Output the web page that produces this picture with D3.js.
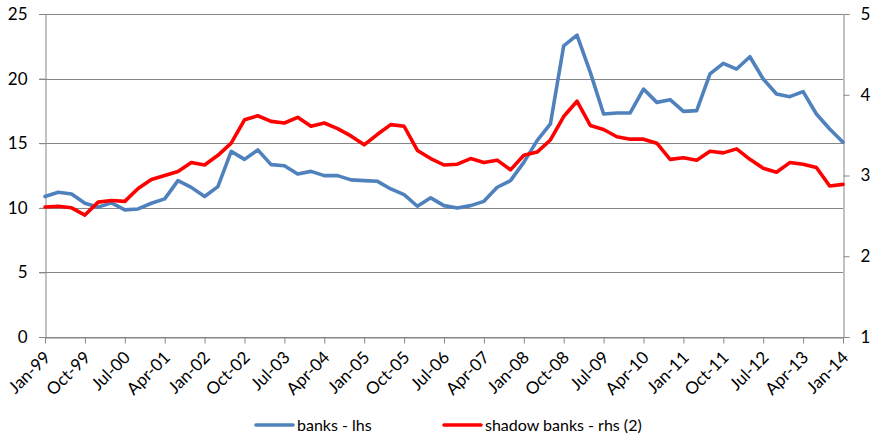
<!DOCTYPE html>
<html>
<head>
<meta charset="utf-8">
<script src="https://cdn.jsdelivr.net/npm/d3@7"></script>
<style>
  html, body { margin: 0; padding: 0; background: #fff; }
  svg { display: block; font-family: Lato, "Open Sans", sans-serif; }
</style>
</head>
<body>
<svg id="chart" width="874" height="436"></svg>
<script>
// Quarterly observations, Jan-99 .. Jan-14
const quarters = d3.range(61).map(i => {
  const m = ["Jan", "Apr", "Jul", "Oct"][i % 4];
  const y = (99 + Math.floor(i / 4)) % 100;
  return m + "-" + String(y).padStart(2, "0");
});

// Banks (left axis)
const banks = [
  10.87, 11.20, 11.07, 10.35, 10.05, 10.38, 9.84, 9.91, 10.35, 10.69,
  12.10, 11.58, 10.87, 11.64, 14.37, 13.75, 14.48, 13.34, 13.26, 12.62,
  12.82, 12.49, 12.49, 12.16, 12.10, 12.05, 11.46, 11.02, 10.12, 10.77,
  10.17, 9.99, 10.17, 10.50, 11.59, 12.10, 13.52, 15.20, 16.49, 22.54,
  23.37, 20.48, 17.26, 17.34, 17.34, 19.19, 18.16, 18.37, 17.46, 17.52,
  20.36, 21.18, 20.74, 21.69, 19.97, 18.81, 18.60, 18.99, 17.26, 16.10,
  15.07
];

// Shadow banks (right axis)
const shadowBanks = [
  2.61, 2.62, 2.60, 2.51, 2.67, 2.69, 2.68, 2.84, 2.95, 3.00,
  3.05, 3.16, 3.13, 3.25, 3.40, 3.69, 3.74, 3.67, 3.65, 3.72,
  3.61, 3.65, 3.58, 3.49, 3.38, 3.51, 3.63, 3.61, 3.31, 3.21,
  3.13, 3.14, 3.21, 3.16, 3.19, 3.07, 3.25, 3.29, 3.44, 3.73,
  3.92, 3.62, 3.57, 3.48, 3.45, 3.45, 3.40, 3.20, 3.22, 3.19,
  3.30, 3.28, 3.33, 3.20, 3.09, 3.04, 3.16, 3.14, 3.10, 2.87,
  2.89
];

const leftTicks = [0, 5, 10, 15, 20, 25];
const rightTicks = [1, 2, 3, 4, 5];
const seriesNames = ["banks - lhs", "shadow banks - rhs (2)"];
const seriesColors = ["#4F81BD", "#FF0000"];

const svg = d3.select("#chart");
const plot = { left: 45, right: 843, top: 14, bottom: 337 };

const x = d3.scalePoint().domain(quarters).range([plot.left, plot.right]);
const yL = d3.scaleLinear().domain([0, 25]).range([plot.bottom, plot.top]);
const yR = d3.scaleLinear().domain([1, 5]).range([plot.bottom, plot.top]);

const gridColor = "#868686";
const intFmt = d3.format("d");

// horizontal gridlines
svg.append("g")
  .selectAll("line")
  .data(leftTicks)
  .join("line")
  .attr("x1", plot.left - 6).attr("x2", plot.right)
  .attr("y1", d => Math.round(yL(d)) + 0.5).attr("y2", d => Math.round(yL(d)) + 0.5)
  .attr("stroke", gridColor).attr("stroke-width", 1);

// left axis
const axL = svg.append("g").attr("transform", `translate(${plot.left + 0.5},0)`)
  .call(d3.axisLeft(yL).tickValues(leftTicks).tickFormat(intFmt).tickSize(6).tickPadding(12));
axL.select(".domain").attr("stroke", gridColor);
axL.selectAll(".tick line").attr("stroke", gridColor);
axL.selectAll("text").attr("font-size", 17).attr("fill", "#000").style("font-family", "Lato, sans-serif");

// right axis
const axR = svg.append("g").attr("transform", `translate(${plot.right + 0.5},0)`)
  .call(d3.axisRight(yR).tickValues(rightTicks).tickFormat(intFmt).tickSize(6).tickPadding(11));
axR.select(".domain").attr("stroke", gridColor);
axR.selectAll(".tick line").attr("stroke", gridColor);
axR.selectAll("text").attr("font-size", 17).attr("fill", "#000").style("font-family", "Lato, sans-serif");

// bottom axis, labelled every third quarter
const shown = quarters.filter((q, i) => i % 3 === 0);
const axB = svg.append("g").attr("transform", `translate(0,${plot.bottom + 0.5})`)
  .call(d3.axisBottom(x).tickValues(shown).tickSize(6).tickSizeOuter(0));
axB.select(".domain").attr("stroke", gridColor);
axB.selectAll(".tick line").attr("stroke", gridColor);
axB.selectAll("text")
  .attr("font-size", 17).attr("fill", "#000").style("font-family", "Lato, sans-serif")
  .attr("text-anchor", "end")
  .attr("dy", null).attr("y", 0)
  .attr("transform", "translate(6,21) rotate(-45)");

// series lines
const lineL = d3.line().x((d, i) => x(quarters[i])).y(d => yL(d));
const lineR = d3.line().x((d, i) => x(quarters[i])).y(d => yR(d));

svg.append("path").datum(banks)
  .attr("d", lineL).attr("fill", "none")
  .attr("stroke", seriesColors[0]).attr("stroke-width", 3.6)
  .attr("stroke-linejoin", "round").attr("stroke-linecap", "round");

svg.append("path").datum(shadowBanks)
  .attr("d", lineR).attr("fill", "none")
  .attr("stroke", seriesColors[1]).attr("stroke-width", 3.6)
  .attr("stroke-linejoin", "round").attr("stroke-linecap", "round");

// legend
const legendItems = [
  { name: seriesNames[0], color: seriesColors[0], x: 256 },
  { name: seriesNames[1], color: seriesColors[1], x: 444 }
];
const lg = svg.append("g").attr("transform", "translate(0,425)");
legendItems.forEach(it => {
  lg.append("line").attr("x1", it.x).attr("x2", it.x + 37).attr("y1", 0).attr("y2", 0)
    .attr("stroke", it.color).attr("stroke-width", 3.6).attr("stroke-linecap", "round");
  lg.append("text").attr("x", it.x + 41).attr("y", 0).attr("dy", "0.35em")
    .attr("font-size", 16).attr("fill", "#000").text(it.name);
});
</script>
</body>
</html>
